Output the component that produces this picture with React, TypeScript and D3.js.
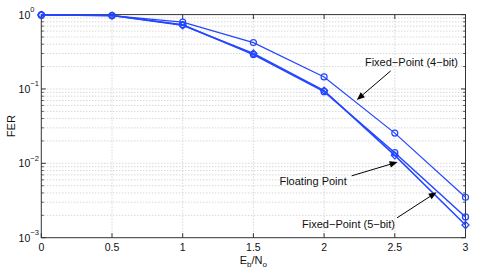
import React from "react";
import * as d3 from "d3";

const ebno = [0, 0.5, 1, 1.5, 2, 2.5, 3];
const fixed4 = [0.99, 0.97, 0.79, 0.42, 0.145, 0.0255, 0.0035];
const floating = [0.99, 0.97, 0.72, 0.3, 0.095, 0.0128, 0.00148];
const fixed5 = [0.99, 0.97, 0.73, 0.29, 0.092, 0.0139, 0.0019];
const xTicks = [0, 0.5, 1, 1.5, 2, 2.5, 3];
const yDecades = [0, -1, -2, -3];

const W = 485,
  H = 278,
  margin = { top: 14.6, right: 19.5, bottom: 40.3, left: 41.3 };
const blue = "#2446ff";

function App() {
  const x = d3.scaleLinear().domain([0, 3]).range([margin.left, W - margin.right]);
  const y = d3.scaleLog().domain([1e-3, 1]).range([H - margin.bottom, margin.top]);

  const minors: number[] = [];
  for (let e = -3; e < 0; e++) {
    for (let m = 2; m <= 9; m++) minors.push(m * Math.pow(10, e));
  }

  const line = (vals: number[]) =>
    d3.line<number>().x((_, i) => x(ebno[i])).y((d) => y(d))(vals) || "";

  const x0 = x(0), x1 = x(3), y0 = y(1e-3), y1 = y(1);

  const circles = (vals: number[], key: string, w: number) =>
    vals.map((v, i) => (
      <circle key={key + i} cx={x(ebno[i])} cy={y(v)} r={3} fill="none" stroke={blue} strokeWidth={w} />
    ));
  const diamonds = (vals: number[], key: string, w: number) =>
    vals.map((v, i) => {
      const cx = x(ebno[i]), cy = y(v), s = 3.5;
      return (
        <path key={key + i} d={`M${cx},${cy - s}L${cx + s},${cy}L${cx},${cy + s}L${cx - s},${cy}Z`}
          fill="none" stroke={blue} strokeWidth={w} />
      );
    });

  const arrow = (fx: number, fy: number, tx: number, ty: number, key: string) => {
    const ang = Math.atan2(ty - fy, tx - fx);
    const L = 8, hw = 3.2;
    const bx = tx - L * Math.cos(ang), by = ty - L * Math.sin(ang);
    const px = -Math.sin(ang) * hw, py = Math.cos(ang) * hw;
    return (
      <g key={key}>
        <line x1={fx} y1={fy} x2={bx} y2={by} stroke="#000" strokeWidth={1} />
        <path d={`M${tx},${ty}L${bx + px},${by + py}L${bx - px},${by - py}Z`} fill="#000" />
      </g>
    );
  };

  return (
    <svg width={W} height={H} style={{ position: "absolute", left: 0, top: 0, background: "#fff" }}
      fontFamily="'Liberation Sans', Arial, sans-serif">
      <rect x={0} y={0} width={W} height={H} fill="#fff" />
      {/* grid */}
      {minors.concat(yDecades.slice(1, 3).map((e) => Math.pow(10, e))).map((v, i) => (
        <line key={"gy" + i} x1={x0} x2={x1} y1={y(v)} y2={y(v)} stroke="#b8b8b8" strokeWidth={0.8} strokeDasharray="1,2" />
      ))}
      {xTicks.slice(1, -1).map((v, i) => (
        <line key={"gx" + i} x1={x(v)} x2={x(v)} y1={y0} y2={y1} stroke="#b8b8b8" strokeWidth={0.8} strokeDasharray="1,2" />
      ))}
      {/* ticks */}
      {xTicks.map((v, i) => (
        <g key={"tx" + i}>
          <line x1={x(v)} x2={x(v)} y1={y0} y2={y0 - 4.5} stroke="#333" />
          <line x1={x(v)} x2={x(v)} y1={y1} y2={y1 + 4.5} stroke="#333" />
          <text x={x(v)} y={y0 + 13} textAnchor="middle" fontSize={10.5} fill="#111">{v}</text>
        </g>
      ))}
      {minors.map((v, i) => (
        <g key={"ty" + i}>
          <line x1={x0} x2={x0 + 2.5} y1={y(v)} y2={y(v)} stroke="#333" strokeWidth={0.8} />
          <line x1={x1} x2={x1 - 2.5} y1={y(v)} y2={y(v)} stroke="#333" strokeWidth={0.8} />
        </g>
      ))}
      {yDecades.map((e, i) => (
        <g key={"yl" + i}>
          <line x1={x0} x2={x0 + 4.5} y1={y(Math.pow(10, e))} y2={y(Math.pow(10, e))} stroke="#333" />
          <line x1={x1} x2={x1 - 4.5} y1={y(Math.pow(10, e))} y2={y(Math.pow(10, e))} stroke="#333" />
          <text x={x0 - 11} y={y(Math.pow(10, e)) + 4} textAnchor="end" fontSize={10.5} fill="#111">10</text>
          <text x={x0 - 11} y={y(Math.pow(10, e)) - 2.5} textAnchor="start" fontSize={7.5} fill="#111">
            {e === 0 ? "0" : "\u2212" + -e}
          </text>
        </g>
      ))}
      <rect x={x0} y={y1} width={x1 - x0} height={y0 - y1} fill="none" stroke="#333" strokeWidth={1} />
      {/* series */}
      <path d={line(fixed4)} fill="none" stroke={blue} strokeWidth={1.2} />
      <path d={line(fixed5)} fill="none" stroke={blue} strokeWidth={1.5} />
      <path d={line(floating)} fill="none" stroke={blue} strokeWidth={1.5} />
      {circles(fixed4, "c4", 1.2)}
      {circles(fixed5, "c5", 1.3)}
      {diamonds(floating, "df", 1.3)}
      {/* annotations */}
      <text x={x(2.289)} y={y(0.204)} fontSize={11} fill="#111">Fixed{"\u2212"}Point (4{"\u2212"}bit)</text>
      {arrow(x(2.471), y(0.175), x(2.231), y(0.0713), "a1")}
      <text x={x(2.16)} y={y(0.00514)} fontSize={11} fill="#111" textAnchor="end">Floating Point</text>
      {arrow(x(2.195), y(0.00679), x(2.52), y(0.0104), "a2")}
      <text x={x(1.844)} y={y(0.00136)} fontSize={11} fill="#111">Fixed{"\u2212"}Point (5{"\u2212"}bit)</text>
      {arrow(x(2.516), y(0.00185), x(2.796), y(0.0041), "a3")}
      {/* axis labels */}
      <text x={(x0 + x1) / 2} y={y0 + 26} textAnchor="middle" fontSize={11} fill="#111">
        E<tspan fontSize={8} dy={3}>b</tspan><tspan dy={-3}>/N</tspan><tspan fontSize={8} dy={3}>o</tspan>
      </text>
      <text transform={`translate(15,${(y0 + y1) / 2}) rotate(-90)`} textAnchor="middle" fontSize={11} fill="#111">FER</text>
    </svg>
  );
}

export default App;
